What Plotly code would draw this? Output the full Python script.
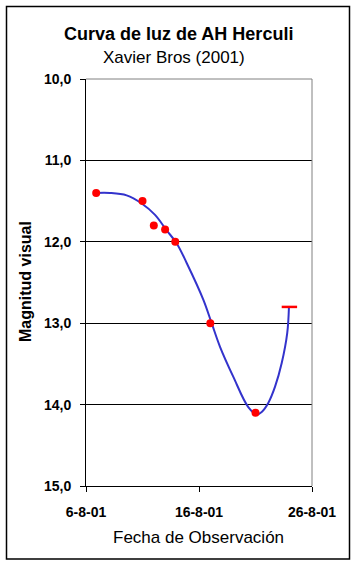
import plotly.graph_objects as go

# Observations (day of August 2001, visual magnitude)
obs_day = [6.9, 11.0, 12.0, 13.0, 13.9, 17.0, 21.0]
obs_mag = [11.4, 11.5, 11.8, 11.85, 12.0, 13.0, 14.1]

# Fainter-than limit observation
limit_day = [24.0]
limit_mag = [12.8]

# Smoothed light-curve line
curve_day = [6.88, 8.12, 9.60, 10.93, 12.11, 13.14, 14.03, 14.91, 16.38, 17.12,
             17.86, 19.04, 20.36, 21.11, 21.55, 22.13, 22.73, 23.32, 23.81, 23.96]
curve_mag = [11.40, 11.40, 11.43, 11.53, 11.67, 11.86, 12.02, 12.26, 12.71, 13.00,
             13.29, 13.66, 14.03, 14.12, 14.09, 13.98, 13.78, 13.49, 13.12, 12.80]

x_tick_vals = [6, 16, 26]
x_tick_text = ["6-8-01", "16-8-01", "26-8-01"]
y_tick_vals = [10, 11, 12, 13, 14, 15]
y_tick_text = ["10,0", "11,0", "12,0", "13,0", "14,0", "15,0"]

FONT = "Liberation Sans, Arial, sans-serif"

fig = go.Figure()
fig.add_trace(go.Scatter(x=curve_day, y=curve_mag, mode="lines",
                         line=dict(color="#3333CC", width=2, shape="spline", smoothing=1),
                         hoverinfo="skip", showlegend=False))
fig.add_trace(go.Scatter(x=obs_day, y=obs_mag, mode="markers",
                         marker=dict(color="#FF0000", size=8, line=dict(width=0)),
                         showlegend=False))
fig.add_trace(go.Scatter(x=limit_day, y=limit_mag, mode="markers",
                         marker=dict(symbol="line-ew", color="#FF0000", size=11,
                                     line=dict(color="#FF0000", width=2.5)),
                         showlegend=False))

W, H = 357, 566
L, R, T, B = 86, 312, 79, 486

def px(xp):
    return (xp - L) / (R - L)

def py(yp):
    return (B - yp) / (B - T)

fig.update_layout(
    width=W, height=H,
    margin=dict(l=L, r=W - R, t=T, b=H - B),
    paper_bgcolor="white", plot_bgcolor="white",
    font=dict(family=FONT, color="black"),
    xaxis=dict(range=[6, 26], tickvals=x_tick_vals, ticktext=x_tick_text,
               showgrid=False, zeroline=False, showline=True, linecolor="black",
               linewidth=1, ticks="outside", ticklen=5, tickcolor="black",
               ticklabelstandoff=8,
               tickfont=dict(size=14, family=FONT, weight="bold"),
               mirror=False),
    yaxis=dict(range=[15, 10], tickvals=y_tick_vals, ticktext=y_tick_text,
               showgrid=True, gridcolor="black", gridwidth=1, zeroline=False,
               showline=True, linecolor="black", linewidth=1, ticks="outside",
               ticklen=5, tickcolor="black", ticklabelstandoff=6,
               tickfont=dict(size=14, family=FONT, weight="bold")),
    shapes=[
        # plot-area border (gray, top and right)
        dict(type="line", xref="paper", yref="paper", x0=0, x1=1, y0=1, y1=1,
             line=dict(color="#808080", width=1)),
        dict(type="line", xref="paper", yref="paper", x0=1, x1=1, y0=0, y1=1,
             line=dict(color="#808080", width=1)),
        # outer chart border
        dict(type="rect", xref="paper", yref="paper",
             x0=px(6.5), x1=px(349.5), y0=py(559), y1=py(6.5),
             line=dict(color="black", width=1.5), fillcolor="rgba(0,0,0,0)"),
    ],
    annotations=[
        dict(text="<b>Curva de luz de AH Herculi</b>", xref="paper", yref="paper",
             x=px(178), y=py(34), xanchor="center", yanchor="middle", showarrow=False,
             font=dict(size=18, family=FONT)),
        dict(text="Xavier Bros (2001)", xref="paper", yref="paper",
             x=px(174), y=py(57), xanchor="center", yanchor="middle", showarrow=False,
             font=dict(size=17, family=FONT)),
        dict(text="Fecha de Observación", xref="paper", yref="paper",
             x=px(198), y=py(537), xanchor="center", yanchor="middle", showarrow=False,
             font=dict(size=17, family=FONT)),
        dict(text="<b>Magnitud visual</b>", xref="paper", yref="paper",
             x=px(25), y=py(282), xanchor="center", yanchor="middle", showarrow=False,
             textangle=-90, font=dict(size=16, family=FONT)),
    ],
)

fig.write_html(
    "out.html",
    config={"displayModeBar": False},
    post_script="document.body.style.margin='0';document.body.style.overflow='hidden';",
)
